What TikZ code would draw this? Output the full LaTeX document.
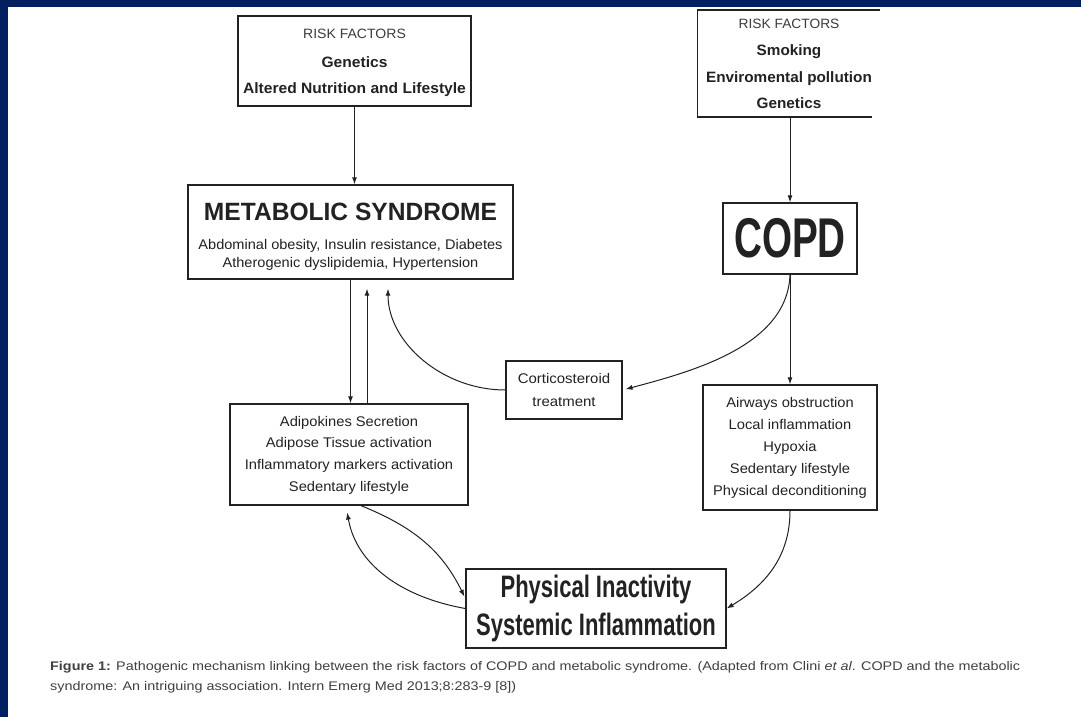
\documentclass[tikz,border=0pt]{standalone}
\usepackage{fontspec}
\setmainfont{Liberation Sans}
\usepackage{graphicx}
\usetikzlibrary{arrows.meta}
\definecolor{navy}{RGB}{0,32,96}
\definecolor{ink}{HTML}{222222}
\definecolor{inkl}{HTML}{3C3C3C}
\definecolor{capc}{HTML}{404040}
\newcommand{\myfs}[2]{\fontsize{#1}{#2}\selectfont}
\newcommand{\sxc}[2]{\scalebox{#1}[1]{\begin{tabular}{@{}c@{}}#2\end{tabular}}}
\newcommand{\sxl}[2]{\scalebox{#1}[1]{\begin{tabular}{@{}l@{}}#2\end{tabular}}}
\begin{document}
\begin{tikzpicture}[x=1pt,y=1pt,
  box/.style={draw=ink, line width=1.3pt, inner sep=0pt, rectangle, text=ink},
  openbox/.style={inner sep=0pt, rectangle, text=ink},
  boxline/.style={draw=ink, line width=1.3pt},
  arr/.style={draw=ink, line width=1pt, -{Latex[length=7pt,width=5pt]}},
  txt/.style={inner sep=0pt, text=ink}
  ]
\fill[navy] (0,0) rectangle (1081,-717);
\fill[white] (7.5,-7) rectangle (1081,-717);
\useasboundingbox (0,0) rectangle (1081,-717);

% risk factors (metabolic)
\node[box, minimum width=233pt, minimum height=90pt, font=\myfs{15}{25.5}\bfseries] (rfl) at (354.5,-61)
  {\sxc{1.04}{{\myfs{13.5}{25.5}\mdseries\color{inkl}RISK FACTORS}\\[3.5pt] Genetics\\ Altered Nutrition and Lifestyle}};

% risk factors (COPD) - open on the right
\node[openbox, minimum width=182pt, minimum height=103pt, font=\myfs{15}{26.7}\bfseries] (rfr) at (789,-63.5)
  {\sxc{1.02}{{\myfs{13.5}{26.7}\mdseries\color{inkl}RISK FACTORS}\\ Smoking\\ Enviromental pollution\\ Genetics}};
\draw[boxline] (rfr.north east) -- (rfr.north west) -- (rfr.south west) -- ([xshift=-8pt]rfr.south east);

% metabolic syndrome
\node[box, minimum width=325pt, minimum height=94pt] (ms) at (350.5,-232) {};
\node[txt, font=\myfs{14}{18}] (mstxt) at (350.5,-238)
  {\sxc{1.04}{{\myfs{25}{18}\bfseries\scalebox{0.945}[1]{METABOLIC SYNDROME}}\\[10.6pt]
   Abdominal obesity, Insulin resistance, Diabetes\\ Atherogenic dyslipidemia, Hypertension}};

% COPD
\node[box, minimum width=134pt, minimum height=71pt, font=\myfs{56}{60}\bfseries] (copd) at (790,-238.5)
  {\scalebox{0.69}[1]{COPD}};

% corticosteroid
\node[box, minimum width=116pt, minimum height=58pt, font=\myfs{14}{23}] (cort) at (564,-390)
  {\sxc{1.07}{Corticosteroid\\ treatment}};

% adipokines
\node[box, minimum width=238pt, minimum height=101pt, font=\myfs{14}{21.7}] (adip) at (349,-454.5)
  {\sxc{1.05}{Adipokines Secretion\\ Adipose Tissue activation\\ Inflammatory markers activation\\ Sedentary lifestyle}};

% airways
\node[box, minimum width=174pt, minimum height=125pt, font=\myfs{14}{22}] (air) at (790,-447.5)
  {\sxc{1.05}{Airways obstruction\\ Local inflammation\\ Hypoxia\\ Sedentary lifestyle\\ Physical deconditioning}};

% physical inactivity
\node[box, minimum width=260pt, minimum height=79pt, font=\myfs{31}{38}\bfseries] (phys) at (596,-608.5)
  {\sxc{0.71}{Physical Inactivity\\ Systemic Inflammation}};

% caption
\node[txt, anchor=west, text=capc, font=\myfs{12.5}{20}] (cap) at (50,-676)
  {\sxl{1.15}{\textbf{Figure 1:} Pathogenic mechanism linking between the risk factors of COPD and metabolic syndrome. (Adapted from Clini \textit{et al}. COPD and the metabolic\\
   syndrome: An intriguing association. Intern Emerg Med 2013;8:283-9 [8])}};

% connectors
\draw[arr] (rfl.south) -- (rfl.south |- ms.north);
\draw[arr] (rfr.south -| copd.north) -- (copd.north);
\draw[arr] (copd.south) -- (air.north);
\draw[arr, shorten >=3pt] (copd.south) to[out=-92,in=15,looseness=0.9] (cort.east);
\draw[arr, shorten >=9pt] (cort.west) to[out=180,in=-90] ([xshift=37.5pt]ms.south);
\draw[arr] (ms.south) -- (ms.south |- adip.north);
\draw[arr, shorten >=9pt] ([xshift=18pt]adip.north) -- ([xshift=18pt]adip.north |- ms.south);
\draw[arr, shorten >=7pt] (phys.west) to[out=170,in=-80] ([xshift=-3pt]adip.south);
\draw[arr, shorten >=2pt] ([xshift=12pt]adip.south) to[out=-22,in=116] ([yshift=10pt]phys.west);
\draw[arr] (air.south) to[out=-90,in=31] (phys.east);
\end{tikzpicture}
\end{document}
